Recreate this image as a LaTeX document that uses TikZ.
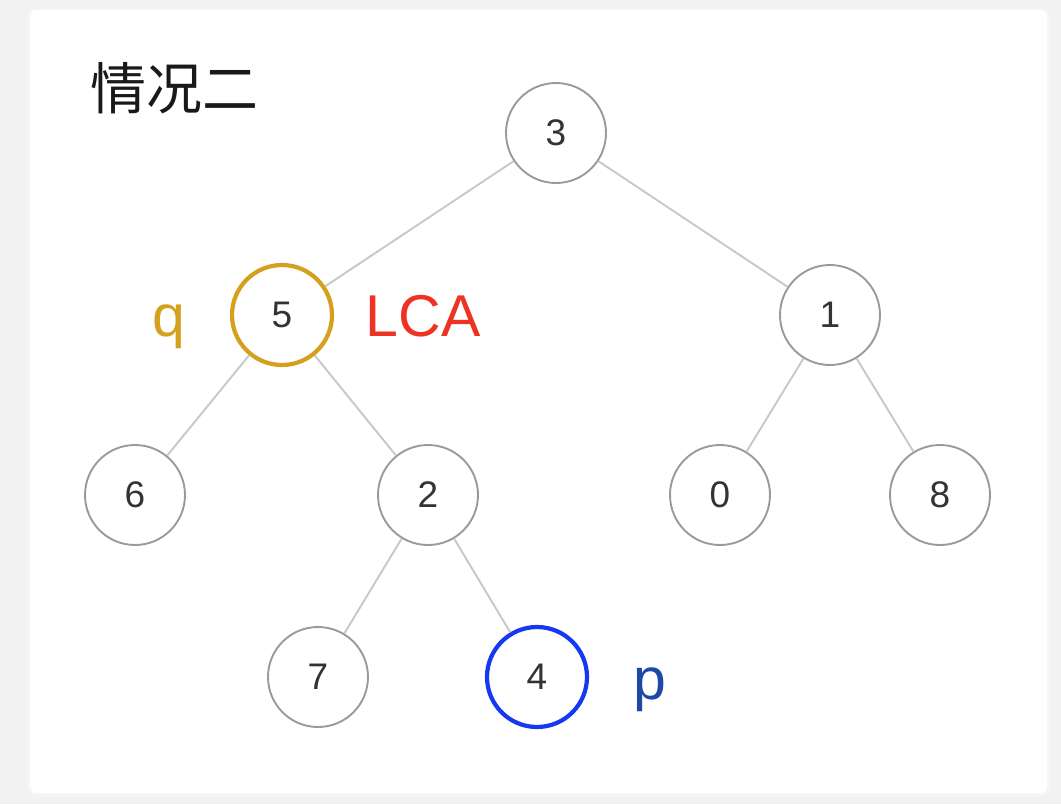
\documentclass[tikz,border=0pt]{standalone}
\usepackage{fontspec}
\setmainfont{Liberation Sans}
\newfontfamily\cjk{Noto Sans CJK SC}
\definecolor{bggray}{HTML}{F2F2F2}
\definecolor{edgegray}{HTML}{C8C8C8}
\definecolor{nodegray}{HTML}{9A9A9A}
\definecolor{digit}{HTML}{333333}
\definecolor{gold}{HTML}{D4A01E}
\definecolor{lcared}{HTML}{EE3322}
\definecolor{brightblue}{HTML}{1538F2}
\definecolor{darkblue}{HTML}{1E48A8}
\tikzset{
  tn/.style={circle, draw=nodegray, line width=1.9pt, fill=white, minimum size=100pt, inner sep=0pt, font=\fontsize{37}{37}\selectfont, text=digit},
  tedge/.style={draw=edgegray, line width=1.9pt},
  lbl/.style={font=\fontsize{59}{59}\selectfont, inner sep=0pt, anchor=center}
}
\begin{document}
\begin{tikzpicture}[x=1pt,y=-1pt]
\useasboundingbox (0,0) rectangle (1061,804);
\fill[bggray] (0,0) rectangle (1061,804);
\fill[black!4, rounded corners=8pt] (27,8) rectangle (1050,796);
\fill[white, rounded corners=6pt] (30,10) rectangle (1047,793);
\node[font=\cjk\fontsize{56}{56}\selectfont, inner sep=0pt, text=black!90] (title) at (174,88) {情况二};
\node[tn] (n3) at (556,133) {3};
\node[tn, draw=gold, line width=4.2pt] (n5) at (282,315) {5};
\node[tn] (n1) at (830,315) {1};
\node[tn] (n6) at (135,495) {6};
\node[tn] (n2) at (428,495) {2};
\node[tn] (n0) at (720,495) {0};
\node[tn] (n8) at (940,495) {8};
\node[tn] (n7) at (318,677) {7};
\node[tn, draw=brightblue, line width=4.2pt] (n4) at (537,677) {4};
\draw[tedge] (n3) -- (n5);
\draw[tedge] (n3) -- (n1);
\draw[tedge] (n5) -- (n6);
\draw[tedge] (n5) -- (n2);
\draw[tedge] (n1) -- (n0);
\draw[tedge] (n1) -- (n8);
\draw[tedge] (n2) -- (n7);
\draw[tedge] (n2) -- (n4);
\node[lbl, text=gold] (q) at (169,327) {q};
\node[lbl, text=lcared] (lca) at (423,316) {LCA};
\node[lbl, text=darkblue] (p) at (650,690) {p};
\end{tikzpicture}
\end{document}
